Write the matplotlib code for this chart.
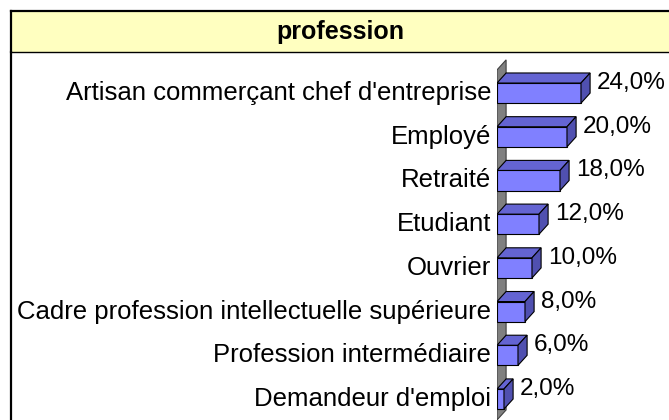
import matplotlib
matplotlib.use("Agg")
import matplotlib.pyplot as plt
from matplotlib.patches import Polygon
from matplotlib.lines import Line2D

plt.rcParams['font.family'] = ['Liberation Sans', 'DejaVu Sans']

categories = ["Artisan commerçant chef d'entreprise", "Employé", "Retraité", "Etudiant",
              "Ouvrier", "Cadre profession intellectuelle supérieure",
              "Profession intermédiaire", "Demandeur d'emploi"]
values = [24.0, 20.0, 18.0, 12.0, 10.0, 8.0, 6.0, 2.0]

W, H = 669, 420
fig = plt.figure(figsize=(W / 100, H / 100), dpi=100)
fig.patch.set_facecolor('white')

# plot area sits right of the labels, under the title box
ax = fig.add_axes([497 / W, 0, (W - 497) / W, (H - 52) / H])
ax.set_xlim(0, (W - 497) / 3.5)
ax.set_ylim(7.48, -0.94)
ax.axis('off')

bar_h = 0.46
dx, dy = 2.6, 0.23  # 3D depth offset (percent, category units)

front = '#8080ff'
top = '#6464d2'
side = '#5050b0'

# grey side wall at zero
wall = Polygon([(0, -0.53), (dx, -0.53 - dy), (dx, 7.48 - dy), (0, 7.48)],
               closed=True, facecolor='#808080', edgecolor='#404040', lw=0.8, zorder=1)
ax.add_patch(wall)

for i, v in enumerate(values):
    y0 = i - bar_h / 2
    y1 = i + bar_h / 2
    ax.barh(i, v, height=bar_h, left=0, color=front, edgecolor='black', lw=0.8, zorder=3)
    ax.add_patch(Polygon([(0, y0), (v, y0), (v + dx, y0 - dy), (dx, y0 - dy)],
                         closed=True, facecolor=top, edgecolor='black', lw=0.8, zorder=3))
    ax.add_patch(Polygon([(v, y0), (v + dx, y0 - dy), (v + dx, y1 - dy), (v, y1)],
                         closed=True, facecolor=side, edgecolor='black', lw=0.8, zorder=3))
    ax.text(v + dx + 2.0, i - dy, f"{v:.1f}%".replace('.', ','), fontsize=17.5,
            va='center', ha='left', zorder=4)
    ax.text(-1.7, i, categories[i], fontsize=18.5, va='center', ha='right', zorder=4)

# title box
tax = fig.add_axes([11 / W, (H - 52) / H, (W - 11) / W, 41 / H])
tax.set_facecolor('#ffffc0')
tax.set_xticks([])
tax.set_yticks([])
tax.spines['right'].set_visible(False)
tax.spines['left'].set_linewidth(1.6)
tax.spines['top'].set_linewidth(1.6)
tax.spines['bottom'].set_linewidth(1.0)
tax.text(0.5, 0.5, 'profession', fontsize=18, fontweight='bold',
         ha='center', va='center', transform=tax.transAxes)

# left border running down the chart
fig.add_artist(Line2D([11 / W, 11 / W], [0, (H - 52) / H], color='black', lw=1.6))

fig.savefig('out.png', dpi=100)
